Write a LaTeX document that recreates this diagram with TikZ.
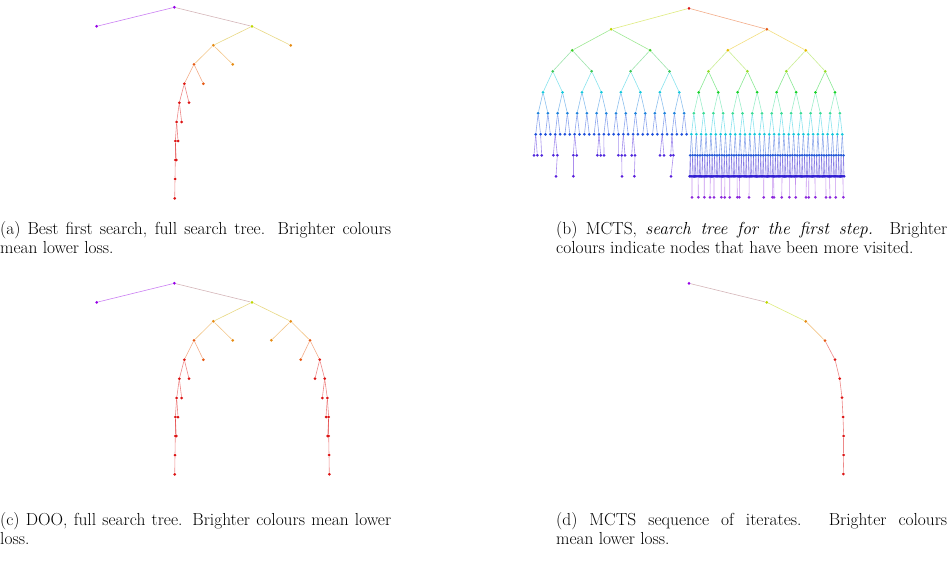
\documentclass[tikz,border=0pt]{standalone}
\begin{document}
\begin{tikzpicture}[x=1pt,y=-1pt,
  dot/.style={circle,inner sep=0pt,minimum size=3pt,fill=#1},
  edge/.style={draw=#1,draw opacity=0.5,line width=0.6pt},
  captext/.style={anchor=north west,inner sep=0pt,text width=391pt,align=justify,font=\fontsize{17.4}{19.2}\selectfont}]
\useasboundingbox (0,0) rectangle (948,567);
\definecolor{purp}{RGB}{150,0,230}
\definecolor{yg}{RGB}{190,215,0}
\definecolor{org}{RGB}{230,140,20}
\definecolor{orr}{RGB}{230,90,20}
\definecolor{rd}{RGB}{220,20,20}
% ---------------- panel a and c
\foreach \dy/\p/\mir in {0/a/0,276/c/1}{
 \node[dot=purp] (\p0) at (174.3,7.3+\dy) {};
 \node[dot=purp] (\p1) at (96.7,26.3+\dy) {};
 \node[dot=yg] (\p2) at (252,26.3+\dy) {};
 \draw[edge=purp] (\p0)--(\p1);
 \draw[edge=purp!50!yg] (\p0)--(\p2);
 \foreach \s/\nm in {1/L,-1/R}{
  \ifnum\mir=0 \ifnum\s=-1 \node[dot=org] (\p R3) at (290.7,45.3+\dy) {}; \draw[edge=yg!50!org] (\p2)--(\p R3);\fi\fi
  \pgfmathsetmacro{\go}{(\s==1)||(\mir==1)}
  \ifdim\go pt>0.5pt
  \begin{scope}[shift={(252,0)},xscale=\s,shift={(-252,0)}]
   \node[dot=org] (\p\nm3) at (213.3,45.3+\dy) {};
   \node[dot=org] (\p\nm4) at (232.7,64.3+\dy) {};
   \node[dot=orr] (\p\nm5) at (194,64.3+\dy) {};
   \node[dot=orr] (\p\nm6) at (203.3,83.7+\dy) {};
   \node[dot=rd!90!orr] (\p\nm7) at (184.3,83.7+\dy) {};
   \node[dot=rd] (\p\nm8) at (189,102.7+\dy) {};
   \node[dot=rd] (\p\nm9) at (179.3,102.7+\dy) {};
   \node[dot=rd] (\p\nm10) at (181.7,122+\dy) {};
   \node[dot=rd] (\p\nm11) at (176.7,122+\dy) {};
   \node[dot=rd] (\p\nm12) at (178,141+\dy) {};
   \node[dot=rd] (\p\nm13) at (175.3,141+\dy) {};
   \node[dot=rd] (\p\nm14) at (176.3,160+\dy) {};
   \node[dot=rd] (\p\nm15) at (175.3,160+\dy) {};
   \node[dot=rd] (\p\nm16) at (175,179+\dy) {};
   \node[dot=rd] (\p\nm17) at (174.7,198.3+\dy) {};
   \draw[edge=yg!50!org] (\p2)--(\p\nm3);
   \draw[edge=org] (\p\nm3)--(\p\nm4);
   \draw[edge=org] (\p\nm3)--(\p\nm5);
   \draw[edge=orr] (\p\nm5)--(\p\nm6);
   \draw[edge=orr] (\p\nm5)--(\p\nm7);
   \draw[edge=rd] (\p\nm7)--(\p\nm8);
   \draw[edge=rd] (\p\nm7)--(\p\nm9);
   \draw[edge=rd] (\p\nm9)--(\p\nm10);
   \draw[edge=rd] (\p\nm9)--(\p\nm11);
   \draw[edge=rd] (\p\nm11)--(\p\nm12);
   \draw[edge=rd] (\p\nm11)--(\p\nm13);
   \draw[edge=rd] (\p\nm13)--(\p\nm14);
   \draw[edge=rd] (\p\nm13)--(\p\nm15);
   \draw[edge=rd] (\p\nm15)--(\p\nm16);
   \draw[edge=rd] (\p\nm16)--(\p\nm17);
  \end{scope}
  \fi
 }
}
% ---------------- panel d
\node[dot=purp] (d0) at (689,283.3) {};
\node[dot=yg] (d1) at (766.7,302.3) {};
\node[dot=org] (d2) at (805.7,321.3) {};
\node[dot=orr] (d3) at (825,340.7) {};
\node[dot=rd] (d4) at (835,359.7) {};
\node[dot=rd] (d5) at (839.7,378.7) {};
\node[dot=rd] (d6) at (842,397.7) {};
\node[dot=rd] (d7) at (843,417) {};
\node[dot=rd] (d8) at (843.7,436) {};
\node[dot=rd] (d9) at (843.7,455) {};
\node[dot=rd] (d10) at (843.3,474) {};
\draw[edge=purp!50!yg] (d0)--(d1);
\draw[edge=yg] (d1)--(d2);
\draw[edge=org] (d2)--(d3);
\foreach \a/\b in {3/4,4/5,5/6,6/7,7/8,8/9,9/10}{\draw[edge=rd] (d\a)--(d\b);}
% ---------------- panel b
\colorlet{L1}{yg}\colorlet{R1}{orr}
\definecolor{L2}{RGB}{60,210,40}\definecolor{R2}{RGB}{230,190,0}
\definecolor{L3}{RGB}{60,200,90}\definecolor{R3}{RGB}{150,220,40}
\definecolor{L4}{RGB}{20,200,220}\definecolor{R4}{RGB}{20,210,40}
\definecolor{L5}{RGB}{30,130,220}\definecolor{R5}{RGB}{60,220,150}
\definecolor{L6}{RGB}{30,80,220}\definecolor{R6}{RGB}{20,200,220}
\definecolor{L7}{RGB}{80,40,220}\definecolor{R7}{RGB}{40,90,215}
\definecolor{L8}{RGB}{90,30,220}\definecolor{R8}{RGB}{50,30,210}
\definecolor{C9}{RGB}{140,40,220}
\node[dot=rd] (b0-0) at (689,8.3) {};
\foreach \k in {1,...,6}{
 \pgfmathtruncatemacro{\n}{2^\k-1}
 \pgfmathtruncatemacro{\h}{2^(\k-1)}
 \pgfmathtruncatemacro{\km}{\k-1}
 \pgfmathsetmacro{\yy}{8.3+21*\k}
 \pgfmathsetmacro{\sp}{311.4/2^\k}
 \foreach \i in {0,...,\n}{
  \pgfmathsetmacro{\xx}{689+(\i-\n/2)*\sp}
  \pgfmathtruncatemacro{\pp}{floor(\i/2)}
  \ifnum\i<\h \def\cc{L\k}\else\def\cc{R\k}\fi
  \node[dot=\cc] (b\k-\i) at (\xx,\yy) {};
  \draw[edge=\cc] (b\km-\pp)--(b\k-\i);
 }
}
% level 7 and 8, right half full
\foreach \i in {64,...,127}{
  \pgfmathsetmacro{\xx}{689+(\i-63.5)*2.43281}
  \pgfmathtruncatemacro{\pp}{floor(\i/2)}
  \node[dot=R7] (b7-\i) at (\xx,155.3) {};
  \draw[edge=R7] (b6-\pp)--(b7-\i);
}
\foreach \i in {128,...,255}{
  \pgfmathsetmacro{\xx}{689+(\i-127.5)*1.21641}
  \pgfmathtruncatemacro{\pp}{floor(\i/2)}
  \node[dot=R8] (b8-\i) at (\xx,176.3) {};
  \draw[edge=R8] (b7-\pp)--(b8-\i);
}
% level 7 left, sparse
\foreach \x [count=\c] in {534,537.3,541.7,553.3,557.3,573.3,576.7,597.3,600.7,604,618.3,621.7,625,631.7,635,660,664,670.7,673.3}{
  \pgfmathtruncatemacro{\pp}{min(31,max(0,round((\x-689)/4.866+31.5)))}
  \node[dot=L7] (bl7-\c) at (\x,155.3) {};
  \draw[edge=L7] (b6-\pp)--(bl7-\c);
}
\foreach \x/\c in {556/5,573.3/6,622/12,634.3/15,671/19}{
  \node[dot=L8] (bl8-\c) at (\x,176.3) {};
  \draw[edge=L8] (bl7-\c)--(bl8-\c);
}
% level 9, sparse
\foreach \x [count=\c] in {692,698.3,704.3,710,714,721.3,724.7,729.7,737.3,739.3,749,763.7,772.3,774,781.7,789.3,795.7,806,808.7,815.3,826,830,835.7,843.3}{
  \pgfmathtruncatemacro{\pp}{min(255,max(128,round((\x-689)/1.2164+127.5)))}
  \node[dot=C9] (b9-\c) at (\x,197.3) {};
  \draw[edge=C9] (b8-\pp)--(b9-\c);
}
% ---------------- captions
\node[captext] (ca) at (0,221) {(a) Best first search, full search tree. Brighter colours mean lower loss.};
\node[captext] (cb) at (556,221) {(b) MCTS, \emph{search tree for the first step.} Brighter colours indicate nodes that have been more visited.};
\node[captext] (cc) at (0,512) {(c) DOO, full search tree. Brighter colours mean lower loss.};
\node[captext] (cd) at (556,512) {(d) MCTS sequence of iterates. Brighter colours\linebreak mean lower loss.};
\end{tikzpicture}
\end{document}
